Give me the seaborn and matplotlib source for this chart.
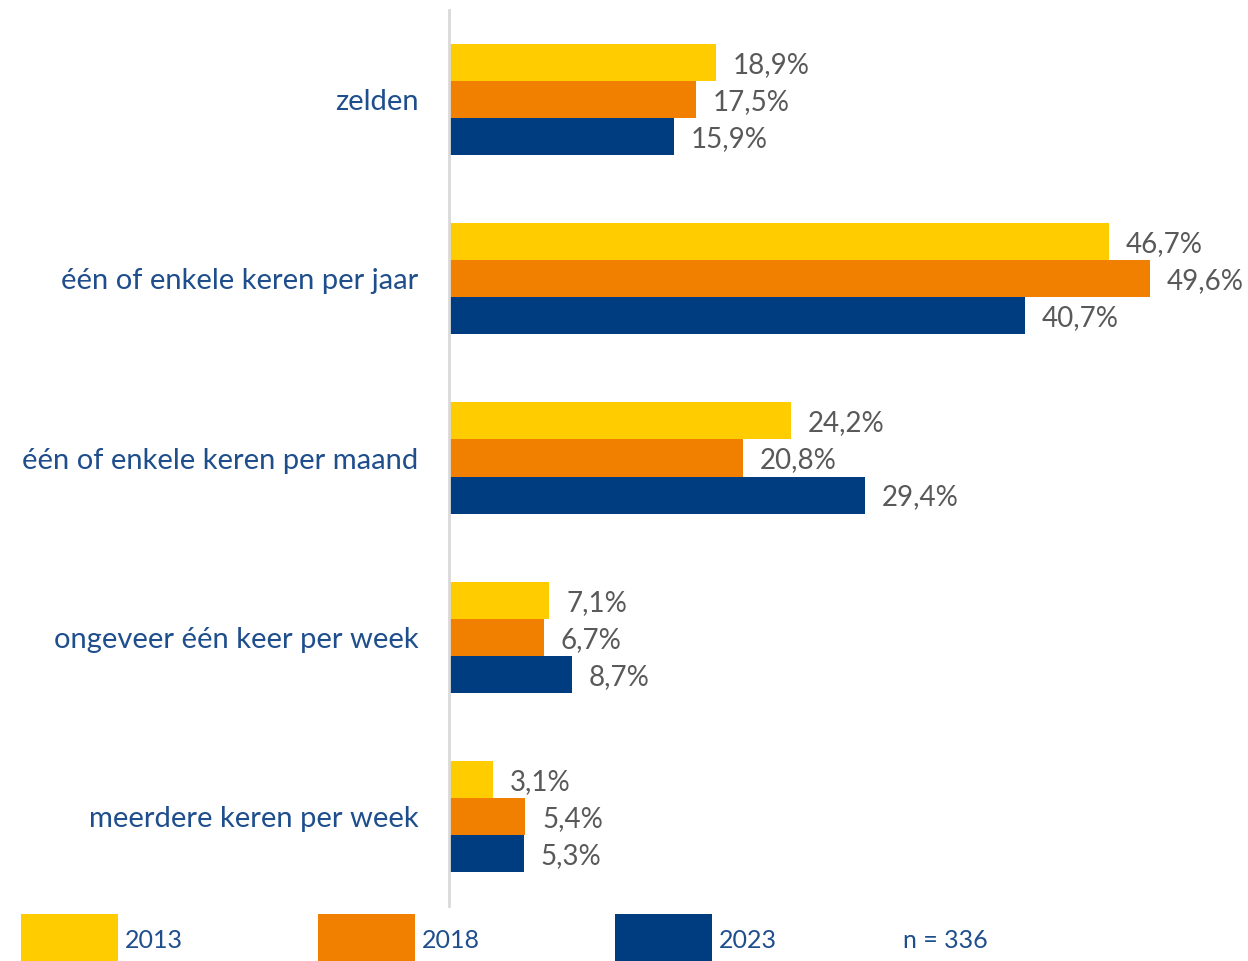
import matplotlib
matplotlib.use("Agg")
import matplotlib.pyplot as plt
import matplotlib.patches as mpatches
import pandas as pd
import seaborn as sns

categories = ["zelden", "één of enkele keren per jaar", "één of enkele keren per maand",
              "ongeveer één keer per week", "meerdere keren per week"]
years = ["2013", "2018", "2023"]
vals_2013 = [18.9, 46.7, 24.2, 7.1, 3.1]
vals_2018 = [17.5, 49.6, 20.8, 6.7, 5.4]
vals_2023 = [15.9, 40.7, 29.4, 8.7, 5.3]
n_label = "n = 336"

COLORS = {"2013": "#FFCC00", "2018": "#F28000", "2023": "#003D80"}
LABEL_BLUE = "#1F4E8C"
VALUE_GREY = "#595959"

sns.set_theme(style="white")
plt.rcParams["font.family"] = ["Lato", "DejaVu Sans"]

rows = []
for yr, vals in zip(years, [vals_2013, vals_2018, vals_2023]):
    for cat, v in zip(categories, vals):
        rows.append({"category": cat, "year": yr, "value": v})
df = pd.DataFrame(rows)

W, H = 1248, 961
fig = plt.figure(figsize=(W / 100, H / 100), dpi=100)
ax = fig.add_axes([449 / W, (H - 906) / H, (W - 449) / W, 896 / H])

sns.barplot(data=df, x="value", y="category", hue="year", order=categories,
            hue_order=years, palette=COLORS, saturation=1, orient="h",
            width=0.62, gap=0, linewidth=0, legend=False, ax=ax)

for cont in ax.containers:
    labels = [f"{v:.1f}%".replace(".", ",") for v in cont.datavalues]
    txts = ax.bar_label(cont, labels=labels, padding=12, fontsize=20, color=VALUE_GREY)
    for t in txts:
        t.set_va("center_baseline")

ax.set_xlim(0, 56.5)
ax.set_ylim(4.5, -0.5)
ax.set_xlabel("")
ax.set_ylabel("")
ax.set_xticks([])
ax.tick_params(axis="y", length=0, pad=22, labelsize=21, labelcolor=LABEL_BLUE)
for s in ["top", "right", "bottom"]:
    ax.spines[s].set_visible(False)
ax.spines["left"].set_color("#D9D9D9")
ax.spines["left"].set_linewidth(2)
ax.grid(False)

# legend drawn along the bottom edge
for i, yr in enumerate(years):
    x0 = 21 + i * 297
    fig.add_artist(mpatches.Rectangle((x0 / W, 0), 97 / W, 47 / H,
                                      transform=fig.transFigure,
                                      color=COLORS[yr], lw=0))
    fig.text((x0 + 104) / W, (H - 940) / H, yr, fontsize=18,
             color=LABEL_BLUE, va="center", ha="left")
fig.text(903 / W, (H - 940) / H, n_label, fontsize=18, color=LABEL_BLUE,
         va="center", ha="left")

fig.savefig("out.png", dpi=100, facecolor="white")
